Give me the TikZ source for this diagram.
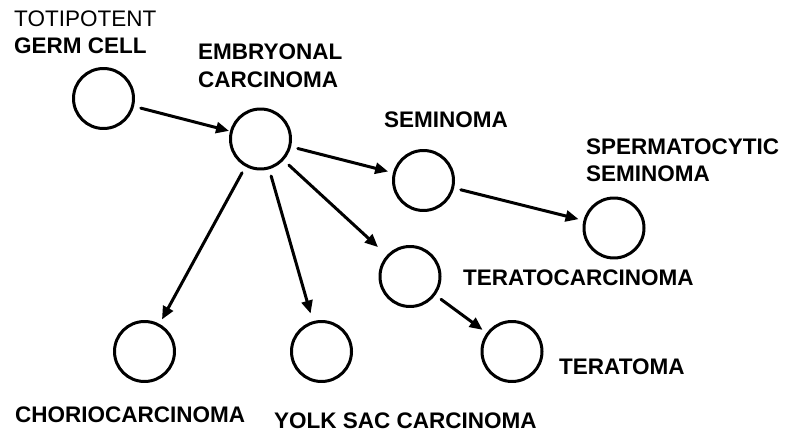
\documentclass[tikz,border=0pt]{standalone}
\usepackage{fontspec}
\setmainfont{Liberation Sans}
\usetikzlibrary{arrows.meta}

\begin{document}
\begin{tikzpicture}[x=1pt, y=-1pt, line cap=round, line join=round,
  cell/.style={circle, draw, line width=3pt, minimum size=60pt, inner sep=0pt},
  lbl/.style={anchor=base west, inner sep=0pt,
              font=\fontsize{22.5}{27}\selectfont\bfseries},
  fl/.style={-{Triangle[length=13pt,width=11pt]}, line width=3pt,
             shorten <=7pt, shorten >=5pt}]

\useasboundingbox (0,0) rectangle (793,433);

% ---------------------------------------------------------------- cells
\node[cell] (germ)  at (103.5,98.5)  {};
\node[cell] (emb)   at (260.5,139)   {};
\node[cell] (sem)   at (423.5,180.5) {};
\node[cell] (spsem) at (614,228)     {};
\node[cell] (terc)  at (410,276.5)   {};
\node[cell] (ter)   at (512,351.5)   {};
\node[cell] (chor)  at (144.5,351.5) {};
\node[cell] (yolk)  at (321.5,351.5) {};

% ---------------------------------------------------------------- labels
\node[lbl, font=\fontsize{22.5}{27}\selectfont] (germA) at (14,26.7) {TOTIPOTENT};
\node[lbl] (germB) at (14,53.3) {GERM CELL};
\node[lbl] (embA)  at (198,60)  {EMBRYONAL};
\node[lbl] (embB)  at (198,87.3) {CARCINOMA};
\node[lbl] (semA)  at (384,128) {SEMINOMA};
\node[lbl] (spA)   at (586,155) {SPERMATOCYTIC};
\node[lbl] (spB)   at (586,182) {SEMINOMA};
\node[lbl] (tercA) at (463,285) {TERATOCARCINOMA};
\node[lbl] (terA)  at (559,374) {TERATOMA};
\node[lbl] (chorA) at (15,422)  {CHORIOCARCINOMA};
\node[lbl] (yolkA) at (274,428) {YOLK SAC CARCINOMA};

% ---------------------------------------------------------------- lineage
\draw[fl, shorten >=1pt] (germ) -- (emb);
\draw[fl] (emb) -- (sem);
\draw[fl] (sem) -- (spsem);
\draw[fl] (emb) -- (chor);
\draw[fl, shorten >=8pt] (emb) -- (yolk);
\draw[fl, shorten >=12pt] (emb) -- (terc);
\draw[fl] (terc) -- (ter);

\end{tikzpicture}
\end{document}
